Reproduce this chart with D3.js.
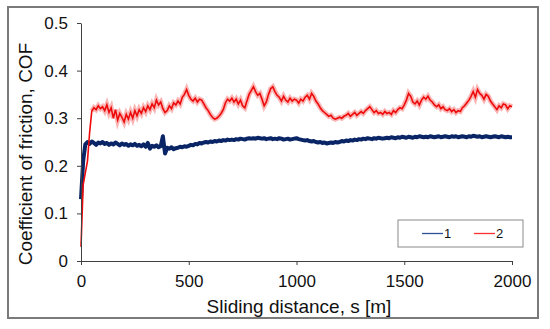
<!DOCTYPE html>
<html>
<head>
<meta charset="utf-8">
<script src="https://cdn.jsdelivr.net/npm/d3@7"></script>
<style>
  html, body { margin: 0; padding: 0; background: #fff; }
  svg { display: block; font-family: Arial, "Liberation Sans", sans-serif; }
</style>
</head>
<body>
<svg id="chart" width="550" height="329"></svg>
<script>
// sampling step of the friction recorder, metres
const step = 10;

// curve 1 (blue), COF every 10 m from 0 to 2000 m
const cof1 = [
  0.13, 0.21, 0.245, 0.250, 0.246, 0.251, 0.248, 0.244, 0.249, 0.247,
  0.250, 0.246, 0.248, 0.244, 0.247, 0.245, 0.249, 0.246, 0.243, 0.247,
  0.244, 0.246, 0.242, 0.245, 0.243, 0.246, 0.242, 0.244, 0.241, 0.245,
  0.240, 0.248, 0.236, 0.242, 0.240, 0.243, 0.239, 0.241, 0.262, 0.226,
  0.238, 0.236, 0.239, 0.235, 0.237, 0.238, 0.240, 0.239, 0.241, 0.240,
  0.242, 0.244, 0.243, 0.246, 0.245, 0.248, 0.247, 0.249, 0.250, 0.249,
  0.251, 0.250, 0.252, 0.251, 0.253, 0.252, 0.254, 0.253, 0.255, 0.254,
  0.255, 0.254, 0.256, 0.255, 0.257, 0.256, 0.255, 0.257, 0.258, 0.257,
  0.258, 0.257, 0.259, 0.258, 0.257, 0.258, 0.256, 0.257, 0.258, 0.256,
  0.257, 0.256, 0.258, 0.257, 0.255, 0.256, 0.257, 0.255, 0.256, 0.257,
  0.258, 0.256, 0.255, 0.254, 0.253, 0.254, 0.252, 0.251, 0.252, 0.250,
  0.249, 0.250, 0.248, 0.249, 0.247, 0.248, 0.249, 0.248, 0.250, 0.249,
  0.250, 0.252, 0.251, 0.253, 0.252, 0.254, 0.253, 0.255, 0.254, 0.256,
  0.255, 0.257, 0.256, 0.258, 0.257, 0.256, 0.258, 0.257, 0.259, 0.258,
  0.257, 0.258, 0.259, 0.258, 0.260, 0.259, 0.258, 0.260, 0.259, 0.261,
  0.260, 0.259, 0.261, 0.260, 0.259, 0.261, 0.260, 0.262, 0.261, 0.260,
  0.261, 0.260, 0.262, 0.261, 0.260, 0.261, 0.262, 0.260, 0.261, 0.262,
  0.261, 0.260, 0.262, 0.261, 0.262, 0.260, 0.261, 0.262, 0.261, 0.260,
  0.262, 0.261, 0.263, 0.262, 0.261, 0.262, 0.260, 0.261, 0.262, 0.261,
  0.260, 0.261, 0.262, 0.261, 0.260, 0.262, 0.261, 0.260, 0.261, 0.260,
  0.260
];

// curve 2 (red), COF every 10 m from 0 to 2000 m
const cof2 = [
  0.03, 0.16, 0.185, 0.21, 0.27, 0.315, 0.322, 0.318, 0.326, 0.320,
  0.324, 0.316, 0.328, 0.312, 0.322, 0.300, 0.318, 0.296, 0.310, 0.302,
  0.292, 0.308, 0.298, 0.312, 0.300, 0.316, 0.305, 0.318, 0.310, 0.322,
  0.314, 0.326, 0.318, 0.330, 0.322, 0.338, 0.328, 0.334, 0.320, 0.312,
  0.316, 0.326, 0.320, 0.332, 0.328, 0.336, 0.330, 0.344, 0.350, 0.360,
  0.348, 0.340, 0.336, 0.342, 0.334, 0.340, 0.338, 0.330, 0.322, 0.316,
  0.308, 0.302, 0.298, 0.300, 0.304, 0.310, 0.318, 0.332, 0.340, 0.336,
  0.342, 0.334, 0.340, 0.330, 0.338, 0.326, 0.322, 0.336, 0.350, 0.358,
  0.366, 0.356, 0.348, 0.352, 0.340, 0.326, 0.334, 0.350, 0.362, 0.366,
  0.356, 0.348, 0.344, 0.336, 0.346, 0.338, 0.334, 0.342, 0.336, 0.340,
  0.338, 0.332, 0.340, 0.336, 0.344, 0.348, 0.340, 0.352, 0.346, 0.336,
  0.330, 0.322, 0.316, 0.312, 0.308, 0.304, 0.306, 0.300, 0.298, 0.300,
  0.302, 0.300, 0.304, 0.306, 0.310, 0.304, 0.308, 0.312, 0.306, 0.310,
  0.314, 0.310, 0.316, 0.320, 0.324, 0.318, 0.312, 0.316, 0.310, 0.312,
  0.308, 0.314, 0.310, 0.312, 0.308, 0.316, 0.312, 0.318, 0.322, 0.320,
  0.328, 0.338, 0.352, 0.346, 0.334, 0.330, 0.336, 0.328, 0.338, 0.344,
  0.340, 0.346, 0.338, 0.334, 0.328, 0.324, 0.328, 0.320, 0.324, 0.318,
  0.316, 0.320, 0.314, 0.318, 0.312, 0.316, 0.314, 0.322, 0.326, 0.332,
  0.338, 0.346, 0.356, 0.344, 0.360, 0.352, 0.348, 0.340, 0.350, 0.346,
  0.336, 0.330, 0.324, 0.318, 0.326, 0.322, 0.330, 0.328, 0.320, 0.326,
  0.324
];

const xTicks = [0, 500, 1000, 1500, 2000];
const yTicks = [0, 0.1, 0.2, 0.3, 0.4, 0.5];
const seriesNames = ['1', '2'];
const seriesColors = ['#0a2566', '#ee0a0a'];

const svg = d3.select('#chart');

// outer frame
svg.append('rect')
  .attr('x', 8).attr('y', 7)
  .attr('width', 530).attr('height', 311)
  .attr('fill', '#fff')
  .attr('stroke', '#7a7a7a')
  .attr('stroke-width', 2);

const x = d3.scaleLinear().domain([0, 2000]).range([81, 512]);
const y = d3.scaleLinear().domain([0, 0.5]).range([261, 23]);

const line = d3.line()
  .x((d, i) => x(i * step))
  .y(d => y(d));

// curves
svg.append('path')
  .datum(cof1)
  .attr('fill', 'none')
  .attr('stroke', seriesColors[0])
  .attr('stroke-width', 4)
  .attr('stroke-linejoin', 'round')
  .attr('d', line);

// pale scatter band round the red trace
svg.append('path')
  .datum(cof2.slice(5))
  .attr('transform', `translate(${x(5 * step) - x(0)},0)`)
  .attr('fill', 'none')
  .attr('stroke', seriesColors[1])
  .attr('stroke-opacity', 0.3)
  .attr('stroke-width', 5)
  .attr('d', line);

svg.append('path')
  .datum(cof2)
  .attr('fill', 'none')
  .attr('stroke', seriesColors[1])
  .attr('stroke-width', 1.6)
  .attr('d', line);

// axes
const xAxis = svg.append('g')
  .attr('transform', `translate(0,${y(0)})`)
  .call(d3.axisBottom(x).tickValues(xTicks).tickSize(4).tickPadding(10).tickSizeOuter(0)
    .tickFormat(d3.format('d')));

const yAxis = svg.append('g')
  .attr('transform', `translate(${x(0)},0)`)
  .call(d3.axisLeft(y).tickValues(yTicks).tickSize(4).tickPadding(9).tickSizeOuter(0)
    .tickFormat(d => d === 0 ? '0' : d3.format('.1f')(d)));

[xAxis, yAxis].forEach(g => {
  g.select('.domain').attr('stroke', '#404040');
  g.selectAll('.tick line').attr('stroke', '#404040');
  g.selectAll('.tick text')
    .attr('fill', '#111')
    .attr('font-size', 17)
    .attr('font-family', 'Arial, "Liberation Sans", sans-serif');
});

// axis titles
svg.append('text')
  .attr('x', 299).attr('y', 313)
  .attr('text-anchor', 'middle')
  .attr('font-size', 19)
  .attr('fill', '#111')
  .text('Sliding distance, s [m]');

svg.append('text')
  .attr('transform', 'translate(32,154) rotate(-90)')
  .attr('text-anchor', 'middle')
  .attr('font-size', 19)
  .attr('fill', '#111')
  .text('Coefficient of friction, COF');

// legend
const legend = svg.append('g');
legend.append('rect')
  .attr('x', 398).attr('y', 220)
  .attr('width', 125).attr('height', 27)
  .attr('fill', '#fff')
  .attr('stroke', '#8a8a8a')
  .attr('stroke-width', 1);

const legendX = [422, 474];
seriesNames.forEach((name, i) => {
  legend.append('line')
    .attr('x1', legendX[i]).attr('x2', legendX[i] + 21)
    .attr('y1', 233.5).attr('y2', 233.5)
    .attr('stroke', i === 0 ? '#2c4f96' : '#ff3030')
    .attr('stroke-width', 1.3);
  legend.append('text')
    .attr('x', legendX[i] + 22).attr('y', 238)
    .attr('font-size', 13)
    .attr('fill', '#111')
    .text(name);
});
</script>
</body>
</html>
